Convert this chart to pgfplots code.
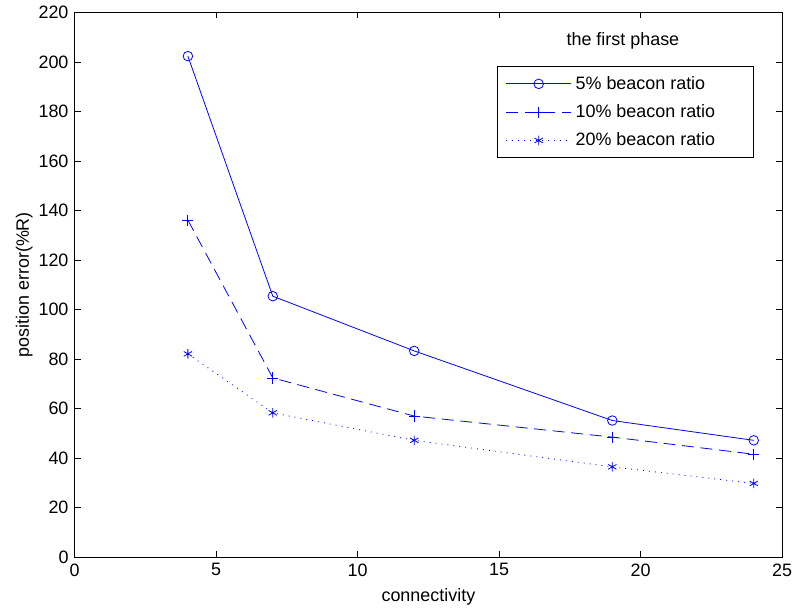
\documentclass[border=0pt]{standalone}
\usepackage{pgfplots}
\pgfplotsset{compat=1.18}
\usetikzlibrary{calc}
\usepackage{fontspec}
\setmainfont{Liberation Sans}
\begin{document}
\fontsize{13.5}{16}\selectfont
\begin{tikzpicture}
  \begin{axis}[
    scale only axis,
    width=532.5pt,
    height=410.25pt,
    xmin=0, xmax=25,
    ymin=0, ymax=220,
    xtick={0,5,...,25},
    ytick={0,20,...,220},
    tick align=inside,
    major tick length=4.5pt,
    axis line style={line width=0.7pt},
    tick style={line width=0.5pt, black},
    tick label style={font=\fontsize{13.5}{16}\selectfont},
    /pgf/number format/assume math mode=true,
    xlabel={connectivity},
    ylabel={position error(\%R)},
    label style={font=\fontsize{13.5}{16}\selectfont},
    xlabel style={at={(rel axis cs:0.5,0)}, anchor=center, yshift=-30pt},
    ylabel style={at={($(rel axis cs:0,0.5)+(-38pt,0)$)}, anchor=center},
    every axis plot/.append style={color=blue, line width=0.6pt},
    legend cell align=left,
    legend style={
      at={(0.9606,0.901)}, anchor=north east,
      draw=black, line width=0.7pt,
      inner xsep=6pt, inner ysep=5pt,
      row sep=5.5pt,
      nodes={inner xsep=3pt},
      font=\fontsize{13.5}{16}\selectfont,
    },
    legend image code/.code={
      \draw[mark repeat=2,mark phase=2] plot coordinates {(0pt,0pt) (24.5pt,0pt) (49pt,0pt)};
    },
  ]
    \addplot[color=blue, solid, mark=o, mark size=3.6pt, mark options={solid, blue}] coordinates {
      (4,202.3) (7,105.4) (12,83.3) (19,55.2) (24,47.2)
    };
    \addplot[color=blue, dash pattern=on 9pt off 5pt, mark=+, mark size=4.2pt, mark options={solid, blue}] coordinates {
      (4,136.1) (7,72.4) (12,57.0) (19,48.5) (24,41.6)
    };
    \addplot[color=blue, dash pattern=on 0.7pt off 3.8pt, mark=asterisk, mark size=3.6pt, mark options={solid, blue}] coordinates {
      (4,82.1) (7,58.3) (12,47.2) (19,36.5) (24,29.8)
    };
    \legend{5\% beacon ratio, 10\% beacon ratio\hspace*{20pt}, 20\% beacon ratio}
    \node at (axis description cs:0.775,0.947) {the first phase};
  \end{axis}
  \path (current axis.south west) ++(-56.25pt,-41.25pt) coordinate (bbA);
  \path (current axis.north east) ++(9.75pt,6pt) coordinate (bbB);
  \path (bbA) rectangle (bbB);
\end{tikzpicture}
\end{document}
